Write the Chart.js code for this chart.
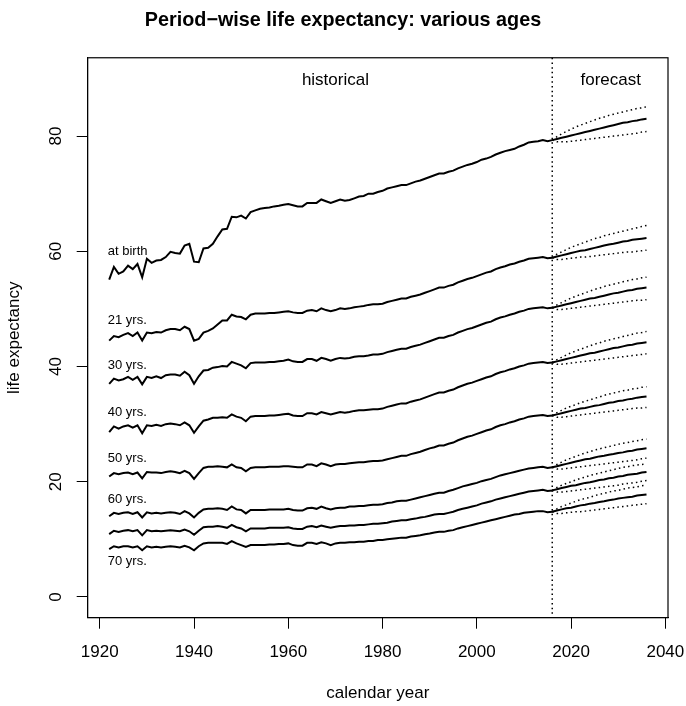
<!DOCTYPE html>
<html>
<head>
<meta charset="utf-8">
<script src="https://cdn.jsdelivr.net/npm/chart.js@4.4.1/dist/chart.umd.min.js"></script>
<style>
  html, body { margin: 0; padding: 0; background: #fff; }
</style>
</head>
<body>
<canvas id="myChart" width="686" height="706"></canvas>
<script>
// years
const firstYear = 1922;
const jumpOff = 2016;
const lastYear = 2036;
const xTicks = [1920, 1940, 1960, 1980, 2000, 2020, 2040];
const yTicks = [0, 20, 40, 60, 80];
const ageLabels = ["at birth", "21 yrs.", "30 yrs.", "40 yrs.", "50 yrs.", "60 yrs.", "", "70 yrs."];

// historical values 1922..2016
const histBirth = [
  55.1, 57.3, 56.1, 56.5, 57.5, 56.9, 57.8, 55.5, 58.7, 58.0,
  58.4, 58.5, 59.0, 59.9, 59.7, 59.6, 61.0, 61.3, 58.2, 58.1,
  60.5, 60.6, 61.3, 62.6, 63.8, 63.9, 66.0, 65.9, 66.2, 65.7,
  66.8, 67.1, 67.4, 67.5, 67.6, 67.8, 67.9, 68.1, 68.2, 68.0,
  67.8, 67.8, 68.4, 68.4, 68.4, 69.0, 68.7, 68.4, 68.7, 69.0,
  68.8, 68.9, 69.2, 69.5, 69.6, 70.0, 70.0, 70.3,
  70.5, 70.9, 71.1, 71.3, 71.5, 71.5, 71.8, 72.1, 72.3, 72.6,
  72.9, 73.2, 73.5, 73.5, 73.8, 74.0, 74.4, 74.7, 75.0, 75.2,
  75.5, 75.9, 76.1, 76.4, 76.8, 77.1, 77.4, 77.6, 77.8, 78.2,
  78.5, 78.9, 79.0, 79.1, 79.3, 79.1, 79.3
];
const hist21 = [
  44.5, 45.3, 45.1, 45.5, 45.8, 45.3, 45.9, 44.5, 45.9, 45.8,
  46.0, 45.9, 46.3, 46.5, 46.5, 46.3, 46.9, 46.5, 44.5, 44.8,
  45.9, 46.2, 46.6, 47.3, 48.0, 48.0, 49.0, 48.7, 48.6, 48.2,
  49.0, 49.2, 49.2, 49.2, 49.3, 49.3, 49.4, 49.5, 49.6, 49.4,
  49.3, 49.3, 49.7, 49.8, 49.6, 50.1, 49.8, 49.6, 49.8, 50.1,
  50.0, 50.1, 50.3, 50.4, 50.5, 50.7, 50.8, 50.8,
  50.9, 51.2, 51.4, 51.6, 51.8, 51.8, 52.1, 52.3, 52.5, 52.8,
  53.1, 53.4, 53.7, 53.7, 54.0, 54.2, 54.6, 54.9, 55.2, 55.4,
  55.7, 56.0, 56.3, 56.5, 56.9, 57.2, 57.4, 57.7, 57.9, 58.2,
  58.4, 58.7, 58.8, 58.9, 59.0, 58.8, 58.9
];
const hist30 = [
  37.0, 37.9, 37.6, 37.8, 38.2, 37.7, 38.2, 36.9, 38.2, 38.0,
  38.3, 38.0, 38.5, 38.6, 38.6, 38.4, 39.1, 38.5, 37.0, 38.3,
  39.3, 39.4, 39.8, 39.9, 40.1, 40.0, 40.8, 40.5, 40.2, 39.7,
  40.6, 40.7, 40.7, 40.7, 40.8, 40.8, 40.9, 41.0, 41.2, 40.9,
  40.8, 40.8, 41.3, 41.3, 41.0, 41.5, 41.3, 41.0, 41.3, 41.5,
  41.4, 41.5, 41.7, 41.8, 41.8, 41.9, 42.1, 42.1,
  42.2, 42.5, 42.7, 42.9, 43.1, 43.1, 43.4, 43.6, 43.8, 44.1,
  44.4, 44.7, 45.0, 45.0, 45.3, 45.5, 45.9, 46.2, 46.5, 46.7,
  47.0, 47.3, 47.6, 47.8, 48.2, 48.5, 48.7, 49.0, 49.2, 49.5,
  49.7, 50.0, 50.1, 50.2, 50.3, 50.1, 50.2
];
const hist40 = [
  28.6, 29.6, 29.2, 29.6, 29.8, 29.4, 29.8, 28.4, 29.8, 29.7,
  29.9, 29.7, 30.0, 30.1, 30.0, 29.8, 30.3, 29.8, 28.5, 29.6,
  30.6, 30.8, 31.1, 31.1, 31.2, 31.1, 31.7, 31.3, 31.1, 30.5,
  31.3, 31.4, 31.4, 31.4, 31.5, 31.5, 31.6, 31.7, 31.8, 31.5,
  31.4, 31.4, 31.9, 31.9, 31.7, 32.1, 31.9, 31.7, 31.9, 32.1,
  32.0, 32.1, 32.3, 32.4, 32.4, 32.5, 32.6, 32.6,
  32.7, 33.0, 33.2, 33.4, 33.6, 33.6, 33.9, 34.1, 34.3, 34.6,
  34.9, 35.2, 35.5, 35.5, 35.8, 36.0, 36.4, 36.7, 37.0, 37.2,
  37.5, 37.8, 38.1, 38.3, 38.7, 39.0, 39.2, 39.5, 39.7, 40.0,
  40.2, 40.5, 40.6, 40.7, 40.8, 40.6, 40.7
];
const hist50 = [
  20.9, 21.5, 21.3, 21.5, 21.6, 21.3, 21.6, 20.6, 21.7, 21.6,
  21.6, 21.5, 21.7, 21.8, 21.7, 21.5, 21.9, 21.5, 20.5, 21.5,
  22.4, 22.6, 22.6, 22.7, 22.6, 22.5, 23.0, 22.5, 22.4, 21.8,
  22.4, 22.5, 22.5, 22.5, 22.6, 22.6, 22.6, 22.7, 22.7, 22.6,
  22.5, 22.5, 23.0, 23.0, 22.7, 23.2, 23.0, 22.7, 23.0, 23.1,
  23.1, 23.2, 23.3, 23.4, 23.4, 23.5, 23.6, 23.6,
  23.7, 23.9, 24.1, 24.3, 24.5, 24.5, 24.8, 25.0, 25.2, 25.5,
  25.8, 26.0, 26.3, 26.3, 26.6, 26.8, 27.2, 27.5, 27.8, 28.0,
  28.3, 28.6, 28.9, 29.1, 29.5, 29.8, 30.0, 30.3, 30.5, 30.8,
  31.0, 31.3, 31.4, 31.5, 31.6, 31.4, 31.5
];
const hist60 = [
  14.0, 14.6, 14.4, 14.6, 14.7, 14.4, 14.7, 13.8, 14.7, 14.5,
  14.6, 14.5, 14.6, 14.7, 14.6, 14.4, 14.9, 14.5, 13.8, 14.6,
  15.2, 15.3, 15.3, 15.4, 15.3, 15.1, 15.7, 15.2, 15.1, 14.5,
  15.1, 15.1, 15.1, 15.1, 15.2, 15.2, 15.2, 15.2, 15.3, 15.1,
  15.0, 15.0, 15.4, 15.5, 15.3, 15.7, 15.4, 15.2, 15.4, 15.5,
  15.5, 15.7, 15.7, 15.8, 15.8, 15.9, 16.0, 16.0,
  16.1, 16.3, 16.4, 16.6, 16.7, 16.7, 16.9, 17.1, 17.3, 17.5,
  17.7, 17.9, 18.1, 18.1, 18.4, 18.6, 18.9, 19.2, 19.4, 19.6,
  19.8, 20.1, 20.3, 20.5, 20.8, 21.1, 21.3, 21.5, 21.7, 21.9,
  22.1, 22.3, 22.4, 22.5, 22.6, 22.4, 22.5
];
const hist65 = [
  10.9, 11.5, 11.3, 11.5, 11.6, 11.4, 11.6, 10.7, 11.6, 11.4,
  11.5, 11.4, 11.5, 11.6, 11.5, 11.4, 11.7, 11.4, 10.8, 11.5,
  12.1, 12.2, 12.2, 12.3, 12.2, 12.0, 12.5, 12.1, 11.9, 11.4,
  11.9, 11.9, 11.9, 11.9, 12.0, 12.0, 12.0, 12.0, 12.1, 11.9,
  11.8, 11.8, 12.2, 12.3, 12.1, 12.4, 12.2, 12.0, 12.2, 12.3,
  12.3, 12.4, 12.4, 12.5, 12.5, 12.6, 12.7, 12.7,
  12.8, 12.9, 13.1, 13.2, 13.3, 13.3, 13.5, 13.6, 13.8, 13.9,
  14.1, 14.3, 14.4, 14.4, 14.6, 14.8, 15.1, 15.3, 15.5, 15.7,
  15.9, 16.2, 16.4, 16.6, 16.9, 17.1, 17.3, 17.5, 17.7, 17.9,
  18.1, 18.3, 18.4, 18.5, 18.6, 18.4, 18.5
];
const hist70 = [
  8.3, 8.8, 8.6, 8.8, 8.8, 8.6, 8.8, 8.1, 8.8, 8.6,
  8.7, 8.6, 8.7, 8.8, 8.7, 8.6, 8.9, 8.6, 8.1, 8.8,
  9.3, 9.4, 9.4, 9.4, 9.4, 9.2, 9.7, 9.3, 9.0, 8.7,
  9.0, 9.0, 9.0, 9.0, 9.1, 9.1, 9.2, 9.2, 9.3, 9.0,
  8.9, 8.9, 9.4, 9.4, 9.2, 9.5, 9.3, 9.0, 9.3, 9.4,
  9.4, 9.5, 9.5, 9.6, 9.6, 9.7, 9.7, 9.9,
  9.9, 10.0, 10.1, 10.2, 10.3, 10.3, 10.5, 10.6, 10.7, 10.9,
  11.0, 11.2, 11.3, 11.3, 11.5, 11.6, 11.9, 12.1, 12.3, 12.5,
  12.7, 12.9, 13.1, 13.3, 13.5, 13.7, 13.9, 14.1, 14.3, 14.4,
  14.6, 14.7, 14.8, 14.9, 14.9, 14.7, 14.8
];

// forecasts 2016..2036: mean, lower and upper bounds
const fcBirth = [79.3, 79.5, 79.7, 79.9, 80.1, 80.3, 80.5, 80.7, 80.9, 81.1, 81.3, 81.5, 81.7, 81.9, 82.1, 82.3, 82.4, 82.6, 82.7, 82.9, 83.0];
const loBirth = [79.3, 79.0, 79.0, 79.0, 79.1, 79.2, 79.3, 79.4, 79.5, 79.6, 79.7, 79.8, 79.9, 80.0, 80.1, 80.2, 80.3, 80.4, 80.5, 80.7, 80.8];
const hiBirth = [79.3, 79.9, 80.4, 80.8, 81.2, 81.6, 81.9, 82.2, 82.5, 82.8, 83.1, 83.3, 83.6, 83.8, 84.0, 84.2, 84.4, 84.6, 84.8, 84.9, 85.1];
const fc21 = [58.9, 59.1, 59.3, 59.5, 59.7, 59.9, 60.1, 60.2, 60.4, 60.6, 60.8, 61.0, 61.2, 61.3, 61.5, 61.7, 61.8, 62.0, 62.1, 62.2, 62.3];
const lo21 = [58.9, 58.6, 58.6, 58.7, 58.8, 58.9, 59.0, 59.0, 59.1, 59.2, 59.3, 59.4, 59.5, 59.6, 59.7, 59.8, 59.9, 59.9, 60.0, 60.1, 60.2];
const hi21 = [58.9, 59.5, 59.9, 60.3, 60.7, 61.0, 61.3, 61.6, 61.9, 62.2, 62.4, 62.7, 62.9, 63.1, 63.3, 63.5, 63.7, 63.9, 64.1, 64.3, 64.5];
const fc30 = [50.2, 50.4, 50.6, 50.8, 51.0, 51.2, 51.4, 51.6, 51.8, 51.9, 52.1, 52.3, 52.5, 52.7, 52.8, 53.0, 53.2, 53.3, 53.5, 53.6, 53.7];
const lo30 = [50.2, 49.9, 49.9, 50.0, 50.1, 50.2, 50.3, 50.4, 50.5, 50.6, 50.7, 50.8, 50.9, 51.0, 51.1, 51.2, 51.3, 51.4, 51.5, 51.5, 51.6];
const hi30 = [50.2, 50.7, 51.1, 51.5, 51.9, 52.2, 52.5, 52.8, 53.1, 53.4, 53.6, 53.9, 54.1, 54.3, 54.5, 54.7, 54.9, 55.1, 55.2, 55.4, 55.5];
const fc40 = [40.7, 40.9, 41.1, 41.3, 41.5, 41.7, 41.9, 42.1, 42.3, 42.4, 42.6, 42.8, 43.0, 43.2, 43.3, 43.5, 43.7, 43.8, 44.0, 44.1, 44.2];
const lo40 = [40.7, 40.4, 40.4, 40.5, 40.6, 40.7, 40.8, 40.9, 41.0, 41.1, 41.2, 41.3, 41.4, 41.5, 41.6, 41.7, 41.8, 41.9, 42.0, 42.1, 42.2];
const hi40 = [40.7, 41.2, 41.6, 42.0, 42.4, 42.7, 43.0, 43.3, 43.6, 43.9, 44.1, 44.4, 44.6, 44.8, 45.0, 45.2, 45.4, 45.6, 45.8, 45.9, 46.1];
const fc50 = [31.5, 31.7, 31.9, 32.1, 32.3, 32.5, 32.7, 32.8, 33.0, 33.2, 33.3, 33.5, 33.7, 33.8, 34.0, 34.1, 34.3, 34.4, 34.6, 34.7, 34.8];
const lo50 = [31.5, 31.2, 31.2, 31.3, 31.4, 31.5, 31.6, 31.7, 31.8, 31.9, 32.0, 32.1, 32.2, 32.3, 32.4, 32.5, 32.6, 32.7, 32.8, 32.8, 32.9];
const hi50 = [31.5, 32.0, 32.4, 32.8, 33.1, 33.4, 33.7, 34.0, 34.2, 34.5, 34.7, 35.0, 35.2, 35.4, 35.6, 35.8, 35.9, 36.1, 36.2, 36.4, 36.5];
const fc60 = [22.5, 22.7, 22.9, 23.1, 23.3, 23.5, 23.7, 23.9, 24.0, 24.2, 24.4, 24.5, 24.7, 24.8, 25.0, 25.1, 25.3, 25.4, 25.6, 25.7, 25.8];
const lo60 = [22.5, 22.2, 22.2, 22.3, 22.4, 22.5, 22.6, 22.7, 22.8, 22.9, 23.0, 23.1, 23.2, 23.3, 23.4, 23.5, 23.6, 23.7, 23.8, 24.0, 24.1];
const hi60 = [22.5, 23.0, 23.4, 23.8, 24.1, 24.4, 24.7, 25.0, 25.2, 25.5, 25.7, 25.9, 26.1, 26.3, 26.5, 26.7, 26.8, 27.0, 27.1, 27.3, 27.4];
const fc65 = [18.5, 18.7, 18.9, 19.1, 19.3, 19.4, 19.6, 19.8, 19.9, 20.1, 20.3, 20.4, 20.6, 20.7, 20.9, 21.0, 21.2, 21.3, 21.4, 21.6, 21.7];
const lo65 = [18.5, 18.2, 18.2, 18.3, 18.4, 18.5, 18.6, 18.7, 18.8, 18.9, 19.0, 19.1, 19.2, 19.3, 19.4, 19.6, 19.7, 19.8, 19.9, 20.1, 20.2];
const hi65 = [18.5, 19.0, 19.4, 19.7, 20.0, 20.3, 20.6, 20.8, 21.1, 21.3, 21.5, 21.7, 21.9, 22.1, 22.3, 22.5, 22.6, 22.8, 22.9, 23.0, 23.1];
const fc70 = [14.8, 15.0, 15.2, 15.4, 15.5, 15.7, 15.9, 16.0, 16.2, 16.3, 16.5, 16.6, 16.8, 16.9, 17.1, 17.2, 17.3, 17.4, 17.6, 17.7, 17.8];
const lo70 = [14.8, 14.5, 14.5, 14.6, 14.7, 14.8, 14.8, 14.9, 15.0, 15.1, 15.2, 15.3, 15.4, 15.5, 15.6, 15.7, 15.8, 15.9, 16.0, 16.1, 16.2];
const hi70 = [14.8, 15.3, 15.7, 16.0, 16.3, 16.6, 16.9, 17.1, 17.3, 17.6, 17.8, 18.0, 18.2, 18.4, 18.5, 18.7, 18.9, 19.0, 19.1, 19.3, 19.4];

const histSeries = [histBirth, hist21, hist30, hist40, hist50, hist60, hist65, hist70];
const meanSeries = [fcBirth, fc21, fc30, fc40, fc50, fc60, fc65, fc70];
const lowSeries = [loBirth, lo21, lo30, lo40, lo50, lo60, lo65, lo70];
const highSeries = [hiBirth, hi21, hi30, hi40, hi50, hi60, hi65, hi70];

const font = "'Liberation Sans', Arial, Helvetica, sans-serif";

//year lists
const histYears = [];
for (let y = firstYear; y <= jumpOff; y++) histYears.push(y);
const fcYears = [];
for (let y = jumpOff; y <= lastYear; y++) fcYears.push(y);

function points(years, vals) {
  return years.map((yr, i) => ({ x: yr, y: vals[i] }));
}

const datasets = [];
histSeries.forEach((vals, i) => {
  datasets.push({ label: ageLabels[i], data: points(histYears, vals), borderColor: "#000", borderWidth: 2 });
  datasets.push({ label: ageLabels[i] + " forecast", data: points(fcYears, meanSeries[i]), borderColor: "#000", borderWidth: 2 });
  datasets.push({ label: ageLabels[i] + " lower", data: points(fcYears, lowSeries[i]), borderColor: "#000", borderWidth: 1.5, borderDash: [1.5, 3.2] });
  datasets.push({ label: ageLabels[i] + " upper", data: points(fcYears, highSeries[i]), borderColor: "#000", borderWidth: 1.5, borderDash: [1.5, 3.2] });
});

// where the text labels sit (data units)
const labelX = 1921.7;
const labelY = [59.9, 48.0, 40.2, 32.1, 24.1, 17.0, null, 6.1];

// box, jump-off line and text inside the plot (R style)
const rDecor = {
  id: "rDecor",
  afterDatasetsDraw(c) {
    const { ctx, chartArea: a, scales: { x, y } } = c;
    ctx.save();
    // dotted line at the jump-off year
    const jx = x.getPixelForValue(jumpOff);
    ctx.strokeStyle = "#000";
    ctx.lineWidth = 1.5;
    ctx.setLineDash([1.5, 3.2]);
    ctx.beginPath();
    ctx.moveTo(jx, a.top);
    ctx.lineTo(jx, a.bottom);
    ctx.stroke();
    ctx.setLineDash([]);
    // box
    ctx.lineWidth = 1.2;
    ctx.strokeRect(a.left, a.top, a.right - a.left, a.bottom - a.top);
    // period names
    ctx.fillStyle = "#000";
    ctx.font = "17px " + font;
    ctx.textAlign = "center";
    ctx.textBaseline = "middle";
    ctx.fillText("historical", x.getPixelForValue(1970), y.getPixelForValue(89.6));
    ctx.fillText("forecast", x.getPixelForValue(2028.4), y.getPixelForValue(89.6));
    // age labels
    ctx.font = "13px " + font;
    ctx.textAlign = "left";
    ageLabels.forEach((t, i) => {
      if (!t) return;
      ctx.fillText(t, x.getPixelForValue(labelX), y.getPixelForValue(labelY[i]));
    });
    ctx.restore();
  },
};

new Chart(document.getElementById("myChart"), {
  type: "line",
  data: { datasets: datasets },
  options: {
    responsive: false,
    animation: false,
    events: [],
    layout: { padding: 0 },
    elements: {
      point: { radius: 0 },
      line: { tension: 0, fill: false, borderCapStyle: "butt" },
    },
    plugins: {
      legend: { display: false },
      tooltip: { enabled: false },
      title: {
        display: true,
        text: "Period\u2212wise life expectancy: various ages",
        color: "#000",
        font: { family: font, size: 19.8, weight: "bold" },
        padding: { top: 9, bottom: 25 },
      },
    },
    scales: {
      x: {
        type: "linear",
        min: 1917.44,
        max: 2040.56,
        afterBuildTicks: (s) => { s.ticks = xTicks.map((v) => ({ value: v })); },
        afterFit: (s) => { s.height = 88.3; s.paddingLeft = 0; s.paddingRight = 18; },
        ticks: { color: "#000", font: { family: font, size: 17 }, padding: 13, maxRotation: 0, callback: (v) => String(v) },
        grid: { drawOnChartArea: false, drawTicks: true, tickLength: 11, color: "#000" },
        border: { display: true, color: "#000" },
        title: { display: true, text: "calendar year", color: "#000", font: { family: font, size: 17 }, padding: { top: 0, bottom: 2 } },
      },
      y: {
        type: "linear",
        min: -3.6,
        max: 93.6,
        afterBuildTicks: (s) => { s.ticks = yTicks.map((v) => ({ value: v })); },
        afterFit: (s) => { s.width = 87.7; s.paddingTop = 0; s.paddingBottom = 0; },
        ticks: { color: "#000", font: { family: font, size: 17 }, padding: 11, minRotation: 90, maxRotation: 90, crossAlign: "center", callback: (v) => String(v) },
        grid: { drawOnChartArea: false, drawTicks: true, tickLength: 11, color: "#000" },
        border: { display: true, color: "#000" },
        title: { display: true, text: "life expectancy", color: "#000", font: { family: font, size: 17 }, padding: { top: 4, bottom: 0 } },
      },
    },
  },
  plugins: [rDecor],
});
</script>
</body>
</html>
